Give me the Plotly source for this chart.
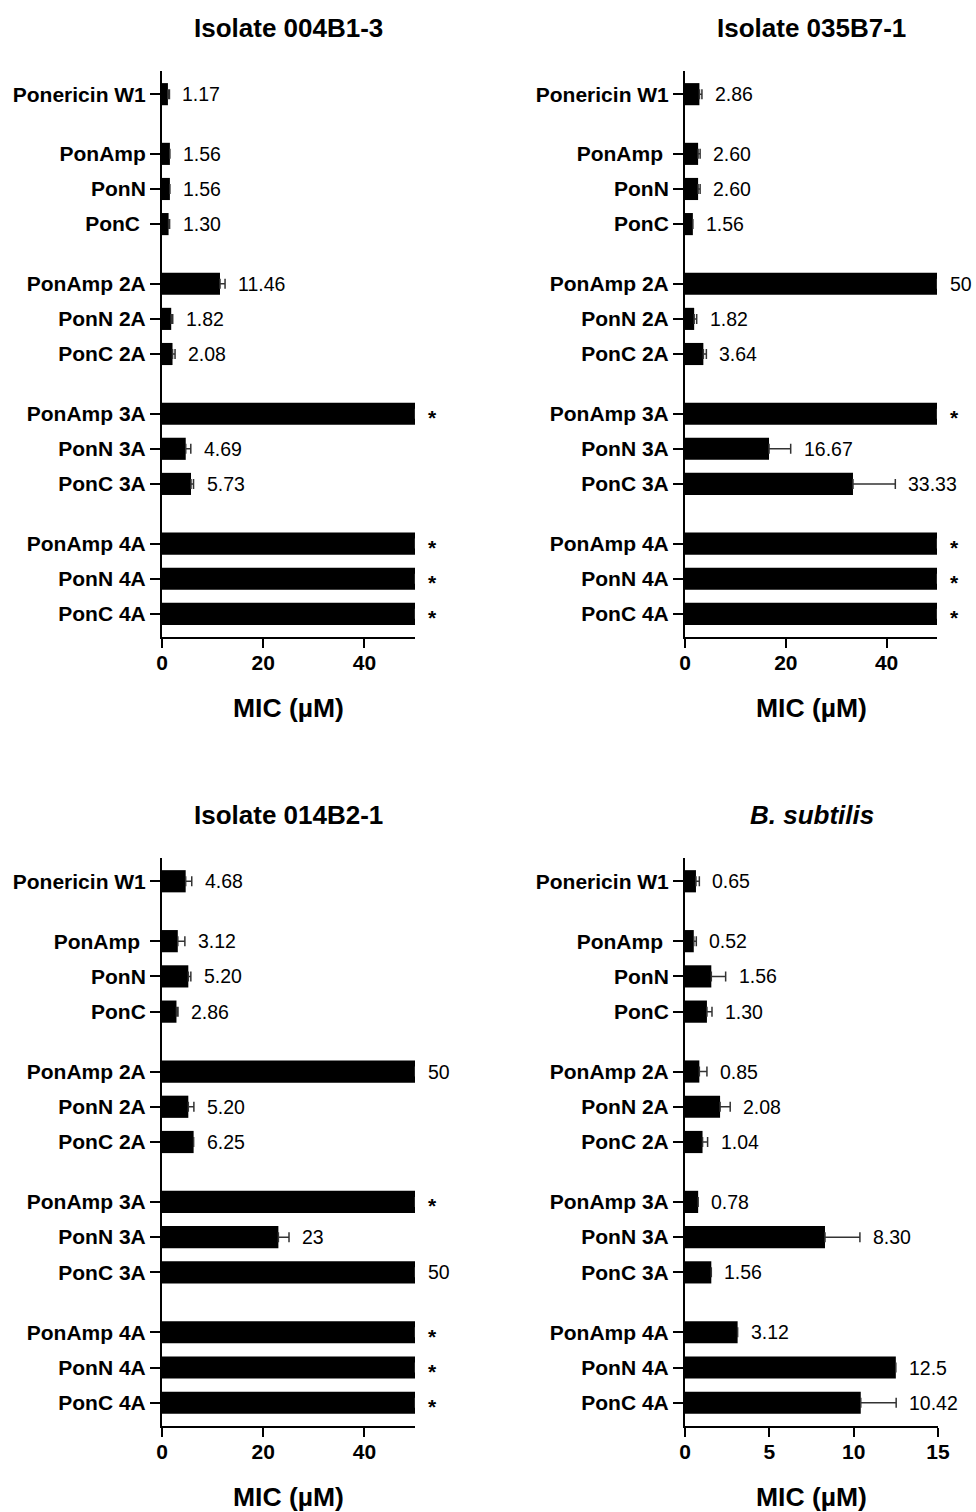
import plotly.graph_objects as go

# Peptide names, in plotting order (top to bottom), grouped by variant family
peptides = ["Ponericin W1",
            "PonAmp", "PonN", "PonC",
            "PonAmp 2A", "PonN 2A", "PonC 2A",
            "PonAmp 3A", "PonN 3A", "PonC 3A",
            "PonAmp 4A", "PonN 4A", "PonC 4A"]
group_sizes = [1, 3, 3, 3, 3]

# MIC values (µM), upper error (SD) and printed label for each isolate
mic_004B1_3 = [1.17, 1.56, 1.56, 1.30, 11.46, 1.82, 2.08, 50, 4.69, 5.73, 50, 50, 50]
err_004B1_3 = [0.3, 0, 0, 0.2, 1.0, 0.3, 0.5, 0, 1.0, 0.5, 0, 0, 0]
lab_004B1_3 = ["1.17", "1.56", "1.56", "1.30", "11.46", "1.82", "2.08",
               "*", "4.69", "5.73", "*", "*", "*"]

mic_035B7_1 = [2.86, 2.60, 2.60, 1.56, 50, 1.82, 3.64, 50, 16.67, 33.33, 50, 50, 50]
err_035B7_1 = [0.5, 0.4, 0.4, 0, 0, 0.5, 0.6, 0, 4.3, 8.4, 0, 0, 0]
lab_035B7_1 = ["2.86", "2.60", "2.60", "1.56", "50", "1.82", "3.64",
               "*", "16.67", "33.33", "*", "*", "*"]

mic_014B2_1 = [4.68, 3.12, 5.20, 2.86, 50, 5.20, 6.25, 50, 23, 50, 50, 50, 50]
err_014B2_1 = [1.2, 1.4, 0.5, 0.3, 0, 1.1, 0, 0, 2.1, 0, 0, 0, 0]
lab_014B2_1 = ["4.68", "3.12", "5.20", "2.86", "50", "5.20", "6.25",
               "*", "23", "50", "*", "*", "*"]

mic_bsub = [0.65, 0.52, 1.56, 1.30, 0.85, 2.08, 1.04, 0.78, 8.30, 1.56, 3.12, 12.5, 10.42]
err_bsub = [0.2, 0.15, 0.85, 0.3, 0.45, 0.6, 0.3, 0, 2.07, 0, 0, 0, 2.1]
lab_bsub = ["0.65", "0.52", "1.56", "1.30", "0.85", "2.08", "1.04",
            "0.78", "8.30", "1.56", "3.12", "12.5", "10.42"]

# x-axis scales
x_max_isolates = 50
x_ticks_isolates = [0, 20, 40]
x_max_bsub = 15
x_ticks_bsub = [0, 5, 10, 15]

W, H = 976, 1512
FONT = "Arial, Liberation Sans, Helvetica, sans-serif"

# Row positions: one unit per bar, extra gap between families
GAP = 0.7
positions = []
cur = 0.0
for gi, n in enumerate(group_sizes):
    if gi > 0:
        cur += GAP
    for _ in range(n):
        positions.append(cur)
        cur += 1
pad = 0.66
y_range = [positions[-1] + pad, -pad]

panels = [
    dict(title="<b>Isolate 004B1-3</b>", mic=mic_004B1_3, err=err_004B1_3, lab=lab_004B1_3,
         xmax=x_max_isolates, xticks=x_ticks_isolates, spaced={"PonC"},
         xdom=[162, 415], ydom=[71, 637]),
    dict(title="<b>Isolate 035B7-1</b>", mic=mic_035B7_1, err=err_035B7_1, lab=lab_035B7_1,
         xmax=x_max_isolates, xticks=x_ticks_isolates, spaced={"PonAmp"},
         xdom=[685, 937], ydom=[71, 637]),
    dict(title="<b>Isolate 014B2-1</b>", mic=mic_014B2_1, err=err_014B2_1, lab=lab_014B2_1,
         xmax=x_max_isolates, xticks=x_ticks_isolates, spaced={"PonAmp"},
         xdom=[162, 415], ydom=[858, 1426]),
    dict(title="<b><i>B. subtilis</i></b>", mic=mic_bsub, err=err_bsub, lab=lab_bsub,
         xmax=x_max_bsub, xticks=x_ticks_bsub, spaced={"PonAmp"},
         xdom=[685, 938], ydom=[858, 1426]),
]

fig = go.Figure()
layout = dict(
    template="none",
    width=W, height=H,
    margin=dict(l=0, r=0, t=0, b=0, pad=0, autoexpand=False),
    paper_bgcolor="white", plot_bgcolor="white",
    showlegend=False,
    font=dict(family=FONT, color="black"),
    annotations=[],
)

for i, p in enumerate(panels, start=1):
    xa = "x" if i == 1 else f"x{i}"
    ya = "y" if i == 1 else f"y{i}"
    n = len(p["mic"])
    fig.add_trace(go.Bar(
        x=p["mic"], y=positions, orientation="h", width=0.63,
        marker=dict(color="black", line=dict(width=0)),
        error_x=dict(type="data", symmetric=False, array=p["err"],
                     arrayminus=[0] * n, color="#333333", thickness=1.5, width=5),
        xaxis=xa, yaxis=ya, hoverinfo="skip",
    ))

    ticktext = [name + "\u00a0" if name in p["spaced"] else name for name in peptides]
    x0, x1 = p["xdom"]
    yt, yb = p["ydom"]
    layout["xaxis" if i == 1 else f"xaxis{i}"] = dict(
        domain=[x0 / W, x1 / W], anchor=ya, range=[0, p["xmax"]], automargin=False,
        tickvals=p["xticks"], ticks="outside", ticklen=9, tickwidth=2, tickcolor="black",
        ticklabelstandoff=-3,
        tickfont=dict(size=21, family=FONT, weight="bold", color="black"),
        showline=True, linewidth=2, linecolor="black",
        showgrid=False, zeroline=False, fixedrange=True,
    )
    layout["yaxis" if i == 1 else f"yaxis{i}"] = dict(
        domain=[1 - yb / H, 1 - yt / H], anchor=xa, range=y_range, automargin=False,
        tickvals=positions, ticktext=ticktext,
        ticks="outside", ticklen=10, tickwidth=1.6, tickcolor="black",
        tickfont=dict(size=21, family=FONT, weight="bold", color="black"),
        showline=True, linewidth=2, linecolor="black",
        showgrid=False, zeroline=False, fixedrange=True,
    )

    # value labels / significance marks after each bar's error whisker
    for v, e, lab, pos in zip(p["mic"], p["err"], p["lab"], positions):
        star = lab == "*"
        layout["annotations"].append(dict(
            x=v + e, y=pos, xref=xa, yref=ya,
            text="<b>*</b>" if star else lab, showarrow=False,
            xanchor="left", yanchor="middle", xshift=11, yshift=-4 if star else 0,
            font=dict(size=21 if star else 19.5, family=FONT, color="black"),
        ))

    cx = (x0 + x1) / 2 / W
    # panel title
    layout["annotations"].append(dict(
        x=cx, y=1 - (yt - 43) / H, xref="paper", yref="paper", text=p["title"],
        showarrow=False, xanchor="center", yanchor="middle",
        font=dict(size=26, family=FONT, color="black"),
    ))
    # x-axis title
    layout["annotations"].append(dict(
        x=cx, y=1 - (yb + 71) / H, xref="paper", yref="paper", text="<b>MIC (µM)</b>",
        showarrow=False, xanchor="center", yanchor="middle",
        font=dict(size=26.5, family=FONT, color="black"),
    ))

fig.update_layout(**layout)
fig.write_html("out.html")
